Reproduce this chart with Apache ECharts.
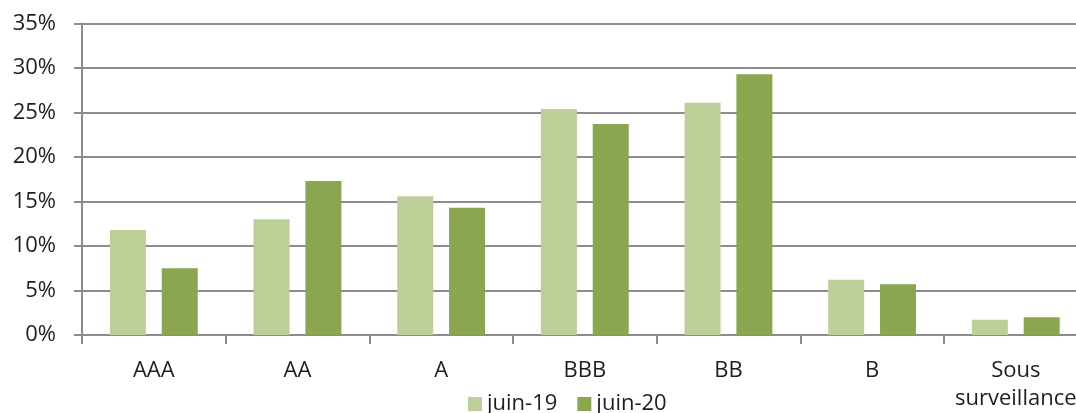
<!DOCTYPE html>
<html>
<head>
<meta charset="utf-8">
<script src="https://cdn.jsdelivr.net/npm/echarts@6/dist/echarts.min.js"></script>
<style>
  html, body { margin: 0; padding: 0; background: #fff; overflow: hidden; }
  #chart { width: 1100px; height: 413px; }
</style>
</head>
<body>
<div id="chart"></div>
<script>
// Rating categories and share of portfolio (%) per period
const categories = ['AAA', 'AA', 'A', 'BBB', 'BB', 'B', 'Sous\nsurveillance'];
const juin19 = [11.8, 13.0, 15.6, 25.4, 26.1, 6.2, 1.7];
const juin20 = [7.5, 17.3, 14.3, 23.7, 29.3, 5.7, 2.0];
const seriesNames = ['juin-19', 'juin-20'];
const yTicks = { min: 0, max: 35, interval: 5 };

const textColor = '#1e1e1e';
const lineColor = '#8c8c8c';
const font = 'Open Sans';

const chart = echarts.init(document.getElementById('chart'), null, { renderer: 'canvas' });
chart.setOption({
  animation: false,
  backgroundColor: '#ffffff',
  grid: { left: 82, top: 23.5, width: 1005.6, height: 313.5, containLabel: false },
  legend: {
    left: 463,
    top: 387,
    itemWidth: 14,
    itemHeight: 14,
    itemGap: 20,
    icon: 'rect',
    textStyle: { fontFamily: font, fontSize: 22, color: textColor, lineHeight: 24 },
    data: seriesNames
  },
  xAxis: {
    type: 'category',
    data: categories,
    axisLine: { lineStyle: { color: lineColor, width: 2 } },
    axisTick: { show: true, length: 9, lineStyle: { color: lineColor, width: 2 } },
    axisLabel: { fontFamily: font, fontSize: 22, color: textColor, margin: 22, lineHeight: 28, interval: 0 }
  },
  yAxis: {
    type: 'value',
    min: yTicks.min,
    max: yTicks.max,
    interval: yTicks.interval,
    axisLine: { show: true, lineStyle: { color: lineColor, width: 2 } },
    axisTick: { show: true, length: 8, lineStyle: { color: lineColor, width: 2 } },
    splitLine: { show: true, lineStyle: { color: lineColor, width: 2 } },
    axisLabel: { fontFamily: font, fontSize: 22, color: textColor, margin: 26, formatter: v => v + '%' }
  },
  series: [
    {
      name: seriesNames[0],
      type: 'bar',
      data: juin19,
      barWidth: 36,
      barGap: '44%',
      itemStyle: { color: '#bbcf96' }
    },
    {
      name: seriesNames[1],
      type: 'bar',
      data: juin20,
      barWidth: 36,
      barGap: '44%',
      itemStyle: { color: '#8aa64e' }
    }
  ]
});
</script>
</body>
</html>
